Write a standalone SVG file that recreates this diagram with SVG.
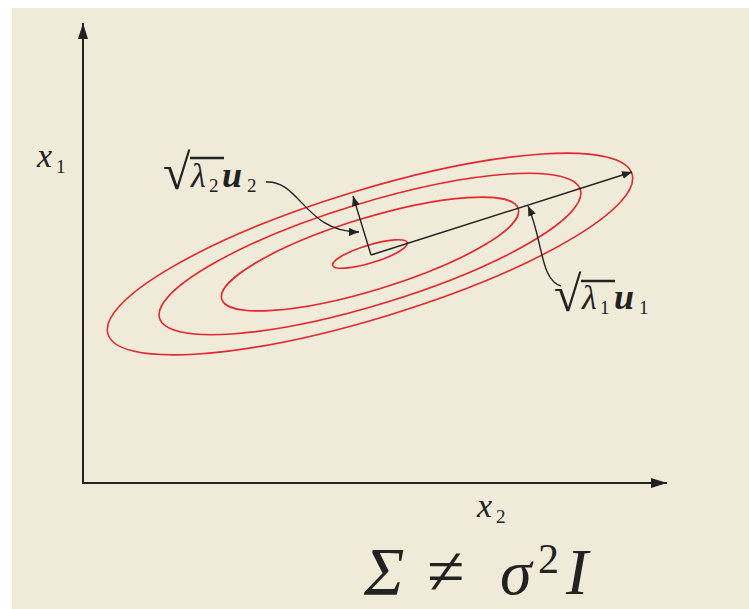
<svg xmlns="http://www.w3.org/2000/svg" width="749" height="609" viewBox="0 0 749 609">
<defs>
<style>
.bg{fill:#f0ebd9}
.axis{stroke:#222;stroke-width:2;fill:none}
.vec{stroke:#222;stroke-width:1.4;fill:none}
.contour{stroke:#e8262e;stroke-width:1.6;fill:none}
.t{font-family:"Liberation Serif","DejaVu Serif",serif;fill:#222}
.i{font-style:italic}
.bi{font-style:italic;font-weight:bold}
.bar{stroke:#222;stroke-width:2.5}
</style>
<marker id="ah" viewBox="0 0 10 10" refX="10" refY="5" markerWidth="10" markerHeight="10" markerUnits="userSpaceOnUse" orient="auto">
<path d="M0,1 L10,5 L0,9 Z" fill="#222"/>
</marker>
<marker id="axh" viewBox="0 0 16 10" refX="16" refY="5" markerWidth="16" markerHeight="10" markerUnits="userSpaceOnUse" orient="auto">
<path d="M0,0 L16,5 L0,10 Z" fill="#222"/>
</marker>
</defs>
<rect x="0" y="0" width="749" height="609" fill="#ffffff"/>
<rect class="bg" x="12" y="8" width="737" height="601"/>

<g id="contours">
<g transform="rotate(-17 370 254)">
<ellipse class="contour" cx="370" cy="254" rx="274" ry="64"/>
<ellipse class="contour" cx="370" cy="254" rx="220" ry="51"/>
<ellipse class="contour" cx="370" cy="254" rx="155" ry="36"/>
<ellipse class="contour" cx="370" cy="254" rx="39" ry="9"/>
</g>
</g>

<g id="axes">
<line class="axis" x1="83" y1="483" x2="83" y2="23" marker-end="url(#axh)"/>
<line class="axis" x1="82" y1="483" x2="667" y2="483" marker-end="url(#axh)"/>
</g>

<g id="connectors">
<line class="vec" x1="371" y1="255" x2="632" y2="172" marker-end="url(#ah)"/>
<line class="vec" x1="371" y1="255" x2="353" y2="196" marker-end="url(#ah)"/>
<path class="vec" d="M266,182 C300,180 305,232 359,232" marker-end="url(#ah)"/>
<path class="vec" d="M561,286 C540,280 543,240 528,206" marker-end="url(#ah)"/>
</g>

<g id="label-x1">
<text class="t"><tspan class="i" x="37" y="167" font-size="34">x</tspan><tspan x="56" y="173" font-size="19">1</tspan></text>
</g>
<g id="label-x2">
<text class="t"><tspan class="i" x="477" y="517" font-size="34">x</tspan><tspan x="496" y="523" font-size="19">2</tspan></text>
</g>

<g id="label-u2">
<line class="bar" x1="190" y1="158" x2="224" y2="158"/>
<text class="t"><tspan x="163" y="189" font-size="50">√</tspan><tspan class="i" x="191" y="187" font-size="34">λ</tspan><tspan x="209" y="192" font-size="19">2</tspan><tspan class="bi" x="222" y="187" font-size="36">u</tspan><tspan x="247" y="192" font-size="19">2</tspan></text>
</g>

<g id="label-u1">
<line class="bar" x1="581" y1="281" x2="615" y2="281"/>
<text class="t"><tspan x="554" y="311" font-size="50">√</tspan><tspan class="i" x="582" y="309" font-size="34">λ</tspan><tspan x="600" y="314" font-size="19">1</tspan><tspan class="bi" x="614" y="309" font-size="36">u</tspan><tspan x="639" y="314" font-size="19">1</tspan></text>
</g>

<g id="label-sigma">
<text class="t"><tspan class="i" x="364" y="594" font-size="68">Σ</tspan><tspan x="427" y="594" font-size="68">≠</tspan><tspan class="i" x="500" y="594" font-size="64">σ</tspan><tspan x="538" y="573" font-size="42">2</tspan><tspan class="i" x="566" y="594" font-size="66">I</tspan></text>
</g>
</svg>
